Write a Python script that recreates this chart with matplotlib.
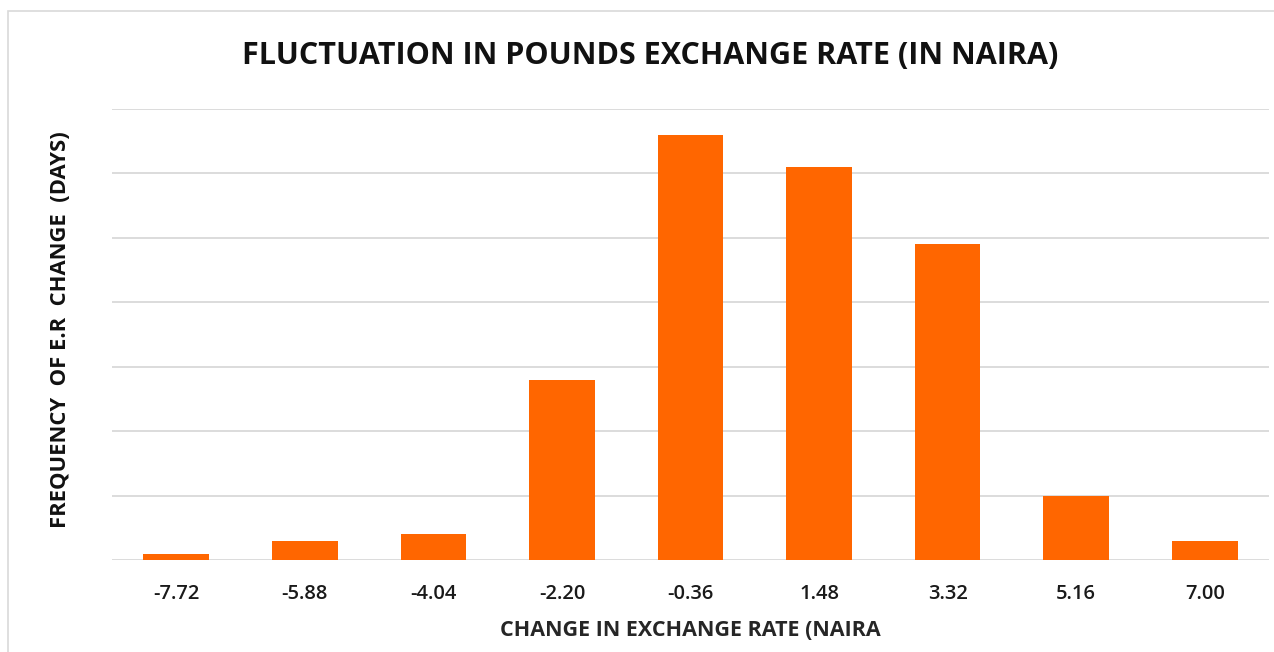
import matplotlib
matplotlib.use("Agg")
import matplotlib.pyplot as plt
from matplotlib.patches import Rectangle

categories = ["-7.72", "-5.88", "-4.04", "-2.20", "-0.36", "1.48", "3.32", "5.16", "7.00"]
frequency = [1, 3, 4, 28, 66, 61, 49, 10, 3]

title = "FLUCTUATION IN POUNDS EXCHANGE RATE (IN NAIRA)"
xlabel = "CHANGE IN EXCHANGE RATE (NAIRA"
ylabel = "FREQUENCY  OF E.R  CHANGE  (DAYS)"

W, H = 1274, 652
fig = plt.figure(figsize=(W / 100, H / 100), dpi=100)
fig.patch.set_facecolor("white")

# chart frame
fig.patches.append(Rectangle((8 / W, -0.01), 1.2, (H - 11) / H + 0.01, transform=fig.transFigure,
                             fill=False, edgecolor="#D9D9D9", linewidth=1.2))

ax = fig.add_axes([112 / W, (H - 560) / H, (1269 - 112) / W, (560 - 109) / H])
x = range(len(categories))
ax.bar(x, frequency, width=0.51, color="#FF6600", zorder=3)
ax.set_xlim(-0.5, len(categories) - 0.5)
ax.set_ylim(0, 70)
ax.set_yticks(range(0, 71, 10))
ax.yaxis.grid(True, color="#D9D9D9", linewidth=1.3, zorder=0)
ax.set_yticklabels([])
ax.tick_params(axis="y", length=0)
ax.tick_params(axis="x", length=0, pad=17)
ax.set_xticks(list(x))
ax.set_xticklabels(categories, fontsize=14.5, family="Open Sans", fontweight="semibold",
                   color="#1a1a1a")
for s in ax.spines.values():
    s.set_visible(False)

fig.text(650 / W, 1 - 56 / H, title, ha="center", va="center", fontsize=22,
         fontweight="bold", family="Open Sans", color="#111111")
fig.text(690 / W, 1 - 630 / H, xlabel, ha="center", va="center", fontsize=15.5,
         fontweight="bold", family="Open Sans", color="#262626")
fig.text(60 / W, 1 - 330 / H, ylabel, ha="center", va="center", rotation=90, fontsize=15.8,
         fontweight="bold", family="Open Sans", color="#111111")

fig.savefig("out.png", dpi=100, facecolor="white")
